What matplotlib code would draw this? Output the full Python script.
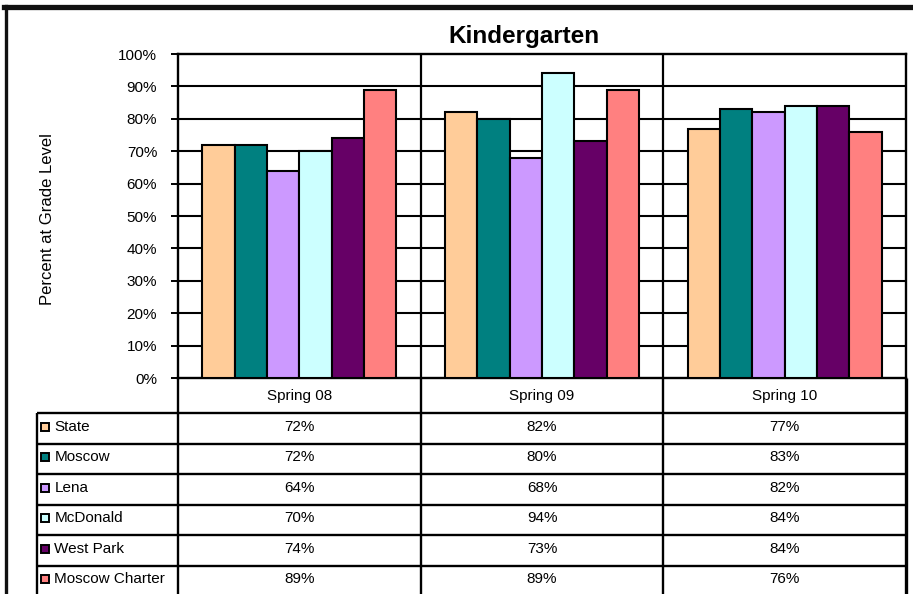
import matplotlib.pyplot as plt
from matplotlib.lines import Line2D
from matplotlib.ticker import PercentFormatter
import numpy as np

plt.rcParams['font.family'] = ['Liberation Sans', 'DejaVu Sans']

periods = ['Spring 08', 'Spring 09', 'Spring 10']
schools = ['State', 'Moscow', 'Lena', 'McDonald', 'West Park', 'Moscow Charter']
state = [72, 82, 77]
moscow = [72, 80, 83]
lena = [64, 68, 82]
mcdonald = [70, 94, 84]
west_park = [74, 73, 84]
moscow_charter = [89, 89, 76]
values = [state, moscow, lena, mcdonald, west_park, moscow_charter]
colors = ['#FFCC99', '#008080', '#CC99FF', '#CCFFFF', '#660066', '#FF8080']

W, H = 913, 594
fig = plt.figure(figsize=(W / 100, H / 100), dpi=100)

def frac(x0, y0, x1, y1):
    # pixel box (top-left origin) -> figure fraction rect
    return [x0 / W, 1 - y1 / H, (x1 - x0) / W, (y1 - y0) / H]

# main plot
ax = fig.add_axes(frac(178, 54, 906, 378))
n = len(schools)
group = 0.8
bw = group / n
x = np.arange(len(periods)) + 0.5
for i, (name, vals) in enumerate(zip(schools, values)):
    pos = x - group / 2 + bw * (i + 0.5)
    ax.bar(pos, np.array(vals) / 100, bw, color=colors[i], edgecolor='black',
           linewidth=1.5, label=name, zorder=3)

ax.set_xlim(0, len(periods))
ax.set_ylim(0, 1)
ax.set_yticks(np.arange(0, 1.01, 0.1))
ax.yaxis.set_major_formatter(PercentFormatter(1.0, decimals=0))
ax.set_xticks([])
ax.tick_params(axis='y', length=5, width=1.4, pad=10, labelsize=11)
for yv in np.arange(0.1, 1.0, 0.1):
    ax.axhline(yv, color='black', lw=1.5, zorder=1)
for xv in range(1, len(periods)):
    ax.axvline(xv, color='black', lw=1.6, zorder=1)
for s in ax.spines.values():
    s.set_linewidth(1.7)

# data table below the plot
x_left = (37 - 178) / ((906 - 178) / 3)
hdr = 35 / 30.5
tax = fig.add_axes(frac(37, 378, 906, 596))
tax.set_xlim(x_left, len(periods))
tax.set_ylim(hdr + n, 0)
tax.axis('off')

lw = 1.7
tax.vlines(range(len(periods)), 0, hdr + n, color='black', lw=lw, clip_on=False)
tax.vlines(len(periods), 0, hdr + n, color='black', lw=2.4, clip_on=False)
tax.vlines(x_left, hdr, hdr + n, color='black', lw=lw, clip_on=False)
tax.hlines([hdr + r for r in range(n + 1)], x_left, len(periods), color='black', lw=lw, clip_on=False)

for j, p in enumerate(periods):
    tax.text(j + 0.5, hdr / 2, p, ha='center', va='center', fontsize=11)
for r, (name, vals) in enumerate(zip(schools, values)):
    yc = hdr + r + 0.45
    tax.plot(x_left + 0.035, yc, marker='s', markersize=5.5, markerfacecolor=colors[r],
             markeredgecolor='black', markeredgewidth=1.4, clip_on=False)
    tax.text(x_left + 0.072, yc, name, ha='left', va='center', fontsize=11)
    for j, v in enumerate(vals):
        tax.text(j + 0.5, yc, f'{v}%', ha='center', va='center', fontsize=11)

fig.text(524 / W, 1 - 36 / H, 'Kindergarten', ha='center', va='center',
         fontsize=17.5, fontweight='bold')
fig.text(47 / W, 1 - 219 / H, 'Percent at Grade Level', ha='center', va='center',
         rotation=90, fontsize=12)

# outer chart border (top and left visible)
fig.add_artist(Line2D([5.5 / W, 5.5 / W], [0, 1 - 6 / H], color='#111111', lw=2.4))
fig.add_artist(Line2D([4 / W, 1], [1 - 6.5 / H, 1 - 6.5 / H], color='#111111', lw=3.8))

fig.savefig('out.png', dpi=100)
